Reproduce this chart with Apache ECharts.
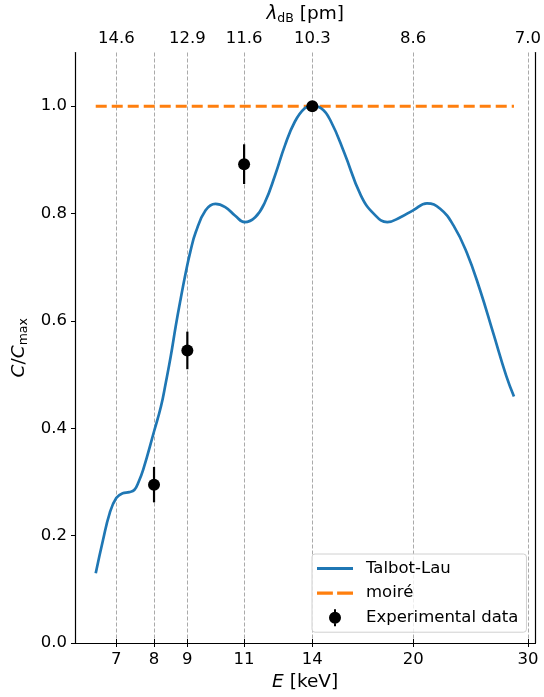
<!DOCTYPE html>
<html>
<head>
<meta charset="utf-8">
<script src="https://cdn.jsdelivr.net/npm/echarts@6/dist/echarts.min.js"></script>
<style>
  html, body { margin: 0; padding: 0; background: #fff; }
  #chart { width: 544px; height: 697px; }
</style>
</head>
<body>
<div id="chart"></div>
<script>
// Talbot-Lau curve, E in keV
var energy = [6.51, 6.68, 6.84, 7.00, 7.16, 7.33, 7.46, 7.58, 7.70, 8.00, 8.20, 8.34, 8.49, 8.64, 8.79, 8.95, 9.10, 9.27, 9.60, 9.94,
  10.29, 10.66, 11.02, 11.44, 11.84, 12.27, 12.71, 13.16, 13.63, 13.98, 14.45, 14.96, 15.68, 16.62, 17.42, 18.25, 19.12, 19.99,
  21.0, 22.0, 23.06, 24.16, 25.31, 26.53, 27.80, 28.56];
var contrast = [0.130, 0.192, 0.242, 0.270, 0.279, 0.281, 0.285, 0.301, 0.323, 0.394, 0.441, 0.485, 0.535, 0.591, 0.641, 0.690, 0.730, 0.765, 0.806, 0.818,
  0.812, 0.796, 0.784, 0.793, 0.821, 0.871, 0.927, 0.971, 0.996, 1.000, 0.996, 0.971, 0.913, 0.834, 0.799, 0.784, 0.793, 0.806,
  0.819, 0.809, 0.778, 0.728, 0.659, 0.578, 0.497, 0.459];

// moire reference
var moireEnergy = [6.51, 28.56];
var moireContrast = [1.0, 1.0];

// experimental points
var expEnergy = [8, 9, 11, 14];
var expContrast = [0.295, 0.545, 0.892, 1.0];
var expError = [0.033, 0.035, 0.037, 0.0];

// ticks
var tickEnergy = [7, 8, 9, 11, 14, 20, 30];
var lambdaLabels = ['14.6', '', '12.9', '11.6', '10.3', '8.6', '7.0'];
var yTicks = [0, 0.2, 0.4, 0.6, 0.8, 1.0];

var font = 'DejaVu Sans';
var tickSize = 16.5;
var nameSize = 18.5;

function pairs(xs, ys) {
  return xs.map(function (x, i) { return [x, ys[i]]; });
}

var errData = expEnergy.map(function (e, i) {
  return [e, expContrast[i] - expError[i], expContrast[i] + expError[i]];
});

var nameRich = {
  i: { fontFamily: font, fontSize: nameSize, fontStyle: 'italic', color: '#000' },
  n: { fontFamily: font, fontSize: nameSize, color: '#000' },
  sub: { fontFamily: font, fontSize: 12.5, color: '#000', padding: [9, 0, 0, 0] }
};

// legend handles
var solidIcon = 'path://M0,0H36V3H0Z';
var dashIcon = 'path://M0,0H15V3H0Z M19,0H34V3H19Z';
var errIcon = 'path://M5,0H7V3H5Z M5,14H7V17H5Z M0,8.5A6,6,0,1,1,12,8.5A6,6,0,1,1,0,8.5Z';

var chart = echarts.init(document.getElementById('chart'), null, { renderer: 'canvas' });

var option = {
  animation: false,
  backgroundColor: '#fff',
  textStyle: { fontFamily: font },
  grid: { left: 75, right: 5, top: 51, bottom: 54 },
  xAxis: [{
    type: 'log',
    min: 6.05,
    max: 30.8,
    position: 'bottom',
    name: '{i|E}{n| [keV]}',
    nameLocation: 'middle',
    nameGap: 26,
    nameTextStyle: { rich: nameRich },
    axisLine: { show: true, lineStyle: { color: '#000', width: 1.2 } },
    axisTick: { show: true, customValues: tickEnergy, length: 4, lineStyle: { color: '#000' } },
    axisLabel: {
      customValues: tickEnergy,
      color: '#000', fontSize: tickSize, fontFamily: font, margin: 8,
      formatter: function (v) { return String(Math.round(v)); }
    },
    splitLine: { show: true, lineStyle: { color: '#aaaaaa', width: 1, type: [4, 2] } },
    minorTick: { show: false },
    minorSplitLine: { show: false }
  }, {
    type: 'log',
    min: 6.05,
    max: 30.8,
    position: 'top',
    name: '{i|λ}{sub|dB}{n| [pm]}',
    nameLocation: 'middle',
    nameGap: 27,
    nameTextStyle: { rich: nameRich },
    axisLine: { show: true, lineStyle: { color: '#000', width: 1.2 } },
    axisTick: { show: true, customValues: tickEnergy, length: 4, lineStyle: { color: '#000' } },
    axisLabel: {
      customValues: tickEnergy,
      color: '#000', fontSize: tickSize, fontFamily: font, margin: 5,
      formatter: function (v) {
        var best = 0;
        for (var k = 0; k < tickEnergy.length; k++) {
          if (Math.abs(tickEnergy[k] - v) < Math.abs(tickEnergy[best] - v)) best = k;
        }
        return lambdaLabels[best];
      }
    },
    splitLine: { show: false }
  }],
  yAxis: [{
    type: 'value',
    min: 0,
    max: 1.1,
    position: 'left',
    name: '{i|C}{n|/}{i|C}{sub|max}',
    nameLocation: 'middle',
    nameRotate: 90,
    nameGap: 40,
    nameTextStyle: { rich: nameRich },
    axisLine: { show: true, lineStyle: { color: '#000', width: 1.2 } },
    axisTick: { show: true, customValues: yTicks, length: 4, lineStyle: { color: '#000' } },
    axisLabel: {
      customValues: yTicks,
      color: '#000', fontSize: tickSize, fontFamily: font, margin: 8,
      formatter: function (v) { return v.toFixed(1); }
    },
    splitLine: { show: false }
  }, {
    type: 'value',
    min: 0,
    max: 1.1,
    position: 'right',
    axisLine: { show: true, lineStyle: { color: '#000', width: 1.2 } },
    axisTick: { show: false },
    axisLabel: { show: false },
    splitLine: { show: false }
  }],
  legend: {
    left: 312,
    top: 554,
    orient: 'vertical',
    padding: [6, 8, 6, 5],
    itemWidth: 36,
    itemHeight: 17,
    itemGap: 7.6,
    borderColor: '#d0d0d0',
    borderWidth: 1,
    borderRadius: 3,
    backgroundColor: 'rgba(255,255,255,0.8)',
    textStyle: { color: '#000', fontSize: tickSize, fontFamily: font, lineHeight: 17, padding: [0, 0, 0, 8] },
    data: [
      { name: 'Talbot-Lau', icon: solidIcon },
      { name: 'moiré', icon: dashIcon },
      { name: 'Experimental data', icon: errIcon }
    ]
  },
  series: [{
    name: 'Talbot-Lau',
    type: 'line',
    data: pairs(energy, contrast),
    showSymbol: false,
    symbol: 'none',
    smooth: 0.45,
    lineStyle: { color: '#1f77b4', width: 2.7 },
    itemStyle: { color: '#1f77b4' },
    z: 3
  }, {
    name: 'moiré',
    type: 'line',
    data: pairs(moireEnergy, moireContrast),
    showSymbol: false,
    symbol: 'none',
    lineStyle: { color: '#ff7f0e', width: 3, type: [11, 5] },
    itemStyle: { color: '#ff7f0e' },
    z: 2
  }, {
    name: 'errors',
    type: 'custom',
    data: errData,
    encode: { x: 0, y: [1, 2] },
    renderItem: function (params, api) {
      var lo = api.coord([api.value(0), api.value(1)]);
      var hi = api.coord([api.value(0), api.value(2)]);
      return {
        type: 'line',
        shape: { x1: lo[0], y1: lo[1], x2: hi[0], y2: hi[1] },
        style: { stroke: '#000', lineWidth: 2.2 }
      };
    },
    z: 4
  }, {
    name: 'Experimental data',
    type: 'scatter',
    data: pairs(expEnergy, expContrast),
    symbol: 'circle',
    symbolSize: 12,
    itemStyle: { color: '#000', opacity: 1 },
    z: 5
  }]
};

chart.setOption(option);
</script>
</body>
</html>
